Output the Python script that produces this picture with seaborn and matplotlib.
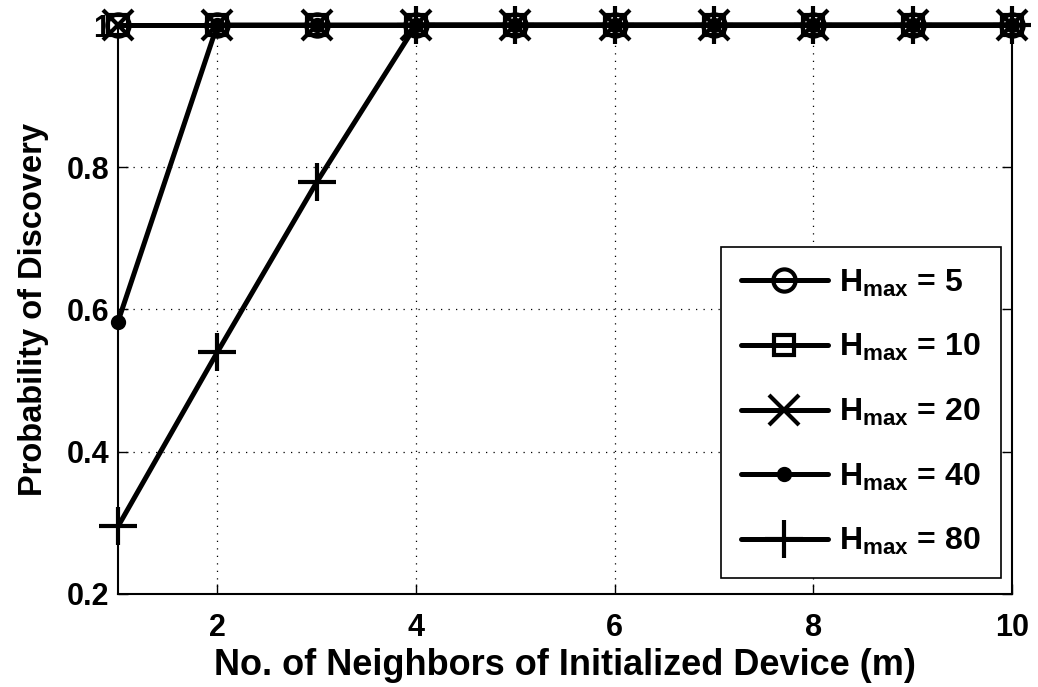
import numpy as np
import pandas as pd
import matplotlib
matplotlib.use('Agg')
import matplotlib.pyplot as plt
import seaborn as sns

# 数据
m_values = [1, 2, 3, 4, 5, 6, 7, 8, 9, 10]
p_h5 = [1, 1, 1, 1, 1, 1, 1, 1, 1, 1]
p_h10 = [1, 1, 1, 1, 1, 1, 1, 1, 1, 1]
p_h20 = [1, 1, 1, 1, 1, 1, 1, 1, 1, 1]
p_h40 = [0.583, 1, 1, 1, 1, 1, 1, 1, 1, 1]
p_h80 = [0.295, 0.54, 0.779, 1, 1, 1, 1, 1, 1, 1]
h_max = [5, 10, 20, 40, 80]
x_ticks = [2, 4, 6, 8, 10]
y_ticks = [0.2, 0.4, 0.6, 0.8, 1.0]
y_tick_labels = ['0.2', '0.4', '0.6', '0.8', '1']

series = [p_h5, p_h10, p_h20, p_h40, p_h80]
rows = []
for h, vals in zip(h_max, series):
    for m, p in zip(m_values, vals):
        rows.append({'m': m, 'p': p, 'H': h})
df = pd.DataFrame(rows)

sns.set_theme(style='ticks')
plt.rcParams['font.family'] = ['Liberation Sans', 'DejaVu Sans']
plt.rcParams['font.weight'] = 'bold'
plt.rcParams['text.color'] = 'black'
plt.rcParams['axes.labelcolor'] = 'black'
plt.rcParams['xtick.color'] = 'black'
plt.rcParams['ytick.color'] = 'black'
plt.rcParams['mathtext.fontset'] = 'custom'
plt.rcParams['mathtext.rm'] = 'Liberation Sans:bold'
plt.rcParams['mathtext.bf'] = 'Liberation Sans:bold'
plt.rcParams['mathtext.it'] = 'Liberation Sans:bold'

fig = plt.figure(figsize=(10.38, 6.87), dpi=100)
ax = fig.add_axes([0.1137, 0.1354, 0.8613, 0.8282])

# 标记样式
styles = {
    5: dict(marker='o', markersize=16, markerfacecolor='none'),
    10: dict(marker='s', markersize=15, markerfacecolor='none'),
    20: dict(marker='x', markersize=21),
    40: dict(marker='o', markersize=8, markerfacecolor='black'),
    80: dict(marker='+', markersize=27),
}

for h in h_max:
    sub = df[df['H'] == h]
    sns.lineplot(data=sub, x='m', y='p', ax=ax, color='black', linewidth=3.6,
                 markeredgecolor='black', markeredgewidth=3.0, clip_on=False,
                 label=r'$\mathrm{H}_{\mathrm{max}}$ = ' + str(h), **styles[h])

ax.set_xlim(1, 10)
ax.set_ylim(0.2, 1.0)
ax.set_xticks(x_ticks)
ax.set_yticks(y_ticks)
ax.set_yticklabels(y_tick_labels)
ax.tick_params(direction='in', length=7, width=1, top=True, right=True,
               labelsize=22, colors='black')
ax.tick_params(axis='x', pad=14)
ax.tick_params(axis='y', pad=6)
for lab in ax.get_xticklabels() + ax.get_yticklabels():
    lab.set_fontweight('bold')
for s in ax.spines.values():
    s.set_linewidth(1.5)
    s.set_color('black')
ax.grid(True, color='black', linestyle=(0, (1, 5)), linewidth=0.9)

ax.set_xlabel('No. of Neighbors of Initialized Device (m)', fontsize=26,
              fontweight='bold', labelpad=3)
ax.set_ylabel('Probability of Discovery', fontsize=23.5, fontweight='bold',
              labelpad=13)

leg = ax.legend(loc='lower right', bbox_to_anchor=(0.988, 0.028),
                borderaxespad=0, fontsize=23, handlelength=2.7,
                handletextpad=0.35, labelspacing=1.05, borderpad=0.65,
                fancybox=False, framealpha=1, edgecolor='black')
leg.get_frame().set_linewidth(1.2)

fig.savefig('out.png', dpi=100)
